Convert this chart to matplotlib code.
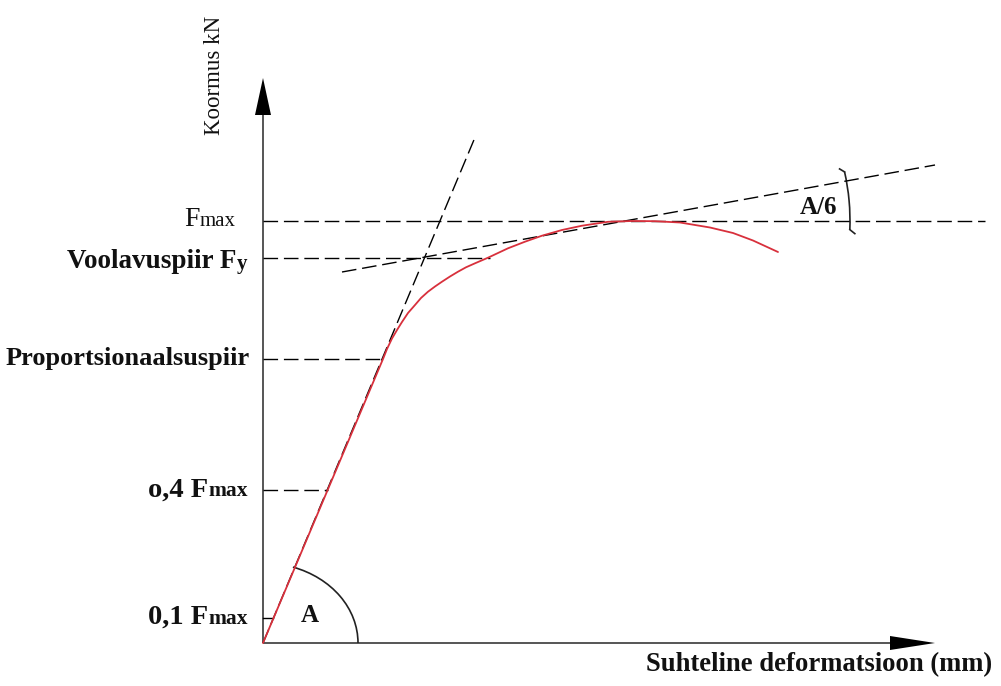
import numpy as np
import matplotlib
matplotlib.use("Agg")
import matplotlib.pyplot as plt
from matplotlib.patches import Arc, FancyArrow
from matplotlib.offsetbox import TextArea, HPacker, AnnotationBbox

# ---- data (schematic units: deformation, load) ----
# linear (proportional) part
lin_x = [0, 120]
lin_y = [0, 284]
# curved part of the load-deformation curve (red)
curve_x = [120, 124, 129, 134, 139, 145, 152, 158, 165, 172, 179, 187, 195,
           203, 212, 225, 245, 262, 279, 299, 319, 345, 369, 392, 417, 447,
           470, 490, 515]
curve_y = [284, 294, 304.5, 313, 321, 330, 338, 345, 351.3, 356.5, 361.3,
           366.5, 371.3, 375.7, 379.7, 385.3, 394.7, 401.3, 407.3, 413, 417.3,
           421.2, 422, 421.8, 420.5, 415.5, 410, 402.5, 391]
# levels
F_max = 422
F_y = 385
F_prop = 284
F_04 = 153
F_01 = 25
# end of horizontal reference lines (deformation)
end_fmax = 722
end_fy = 227
end_prop = 120
end_04 = 65
end_01 = 10
# construction lines
steep_x = [0, 213]
steep_y = [0, 508]
tang_x = [79, 672]
tang_y = [371, 478]
peak = (362, 422)

fig = plt.figure(figsize=(10.01, 6.86), dpi=100)
ax = fig.add_axes([0, 0, 1, 1])
ax.set_xlim(-263, 738)
ax.set_ylim(-43, 643)
ax.axis("off")

serif = ["Liberation Serif", "DejaVu Serif"]
dash = (10.5, 4.2)
lw = 1.0

# axes arrows
ax.add_patch(FancyArrow(0, 0, 0, 565, width=1.3, head_width=16, head_length=37,
                        length_includes_head=True, color="black", lw=0))
ax.add_patch(FancyArrow(0, 0, 672, 0, width=1.3, head_width=14, head_length=45,
                        length_includes_head=True, color="black", lw=0))

# horizontal reference lines
for lvl, e in [(F_max, end_fmax), (F_y, end_fy), (F_prop, end_prop), (F_04, end_04)]:
    ax.plot([0, e], [lvl, lvl], color="black", lw=lw, dashes=dash)
ax.plot([0, end_01], [F_01, F_01], color="black", lw=lw)

# construction lines
ax.plot(steep_x, steep_y, color="black", lw=lw, dashes=dash)
ax.plot(tang_x, tang_y, color="black", lw=lw, dashes=dash)

# load-deformation curve
ax.plot(lin_x + curve_x[1:], lin_y + curve_y[1:], color="#d8303c", lw=1.3,
        solid_capstyle="round", solid_joinstyle="round")

# angle A arc
ax.add_patch(Arc((0, 0), 190, 160, theta1=0, theta2=68.5, color="#222222", lw=1.2))
# angle A/6 arc
ax.add_patch(Arc(peak, 450, 450, theta1=-2.2, theta2=12.6, color="#222222", lw=1.2))
a_top = np.deg2rad(12.6)
a_bot = np.deg2rad(-2.2)
tx, ty = peak[0] + 225 * np.cos(a_top), peak[1] + 225 * np.sin(a_top)
bx, by = peak[0] + 225 * np.cos(a_bot), peak[1] + 225 * np.sin(a_bot)
ax.plot([tx, tx - 5], [ty, ty + 3], color="#222222", lw=1.2)
ax.plot([bx, bx + 5], [by, by - 4], color="#222222", lw=1.2)

def label(parts, xy, align=(1, 0.5)):
    children = [TextArea(t, textprops=dict(fontsize=s, fontweight=w, family=serif,
                                           color="#111111"))
                for t, s, w in parts]
    box = HPacker(children=children, align="baseline", pad=0, sep=0)
    ab = AnnotationBbox(box, xy, xycoords="data", box_alignment=align,
                        frameon=False, pad=0)
    ax.add_artist(ab)

label([("F", 20, "normal"), ("max", 15, "normal")], (-27, F_max + 2))
label([("Voolavuspiir F", 19.5, "bold"), ("y", 15, "bold")], (-16, F_y - 4))
label([("Proportsionaalsuspiir", 19, "bold")], (-13, F_prop + 1))
label([("o,4 F", 20.5, "bold"), ("max", 15.5, "bold")], (-15, F_04))
label([("0,1 F", 20.5, "bold"), ("max", 15.5, "bold")], (-15, F_01 + 1))

ax.text(-48, 568, "Koormus kN", rotation=90, ha="center", va="center",
        fontsize=16.5, family=serif, color="#111111")
ax.text(383, -22, "Suhteline deformatsioon (mm)", ha="left", va="center",
        fontsize=19.2, fontweight="bold", family=serif, color="#111111")
ax.text(556, 436, "A/6", ha="center", va="center", fontsize=18,
        fontweight="bold", family=serif, color="#111111")
ax.text(47, 28, "A", ha="center", va="center", fontsize=18,
        fontweight="bold", family=serif, color="#111111")

fig.savefig("out.png", dpi=100)
